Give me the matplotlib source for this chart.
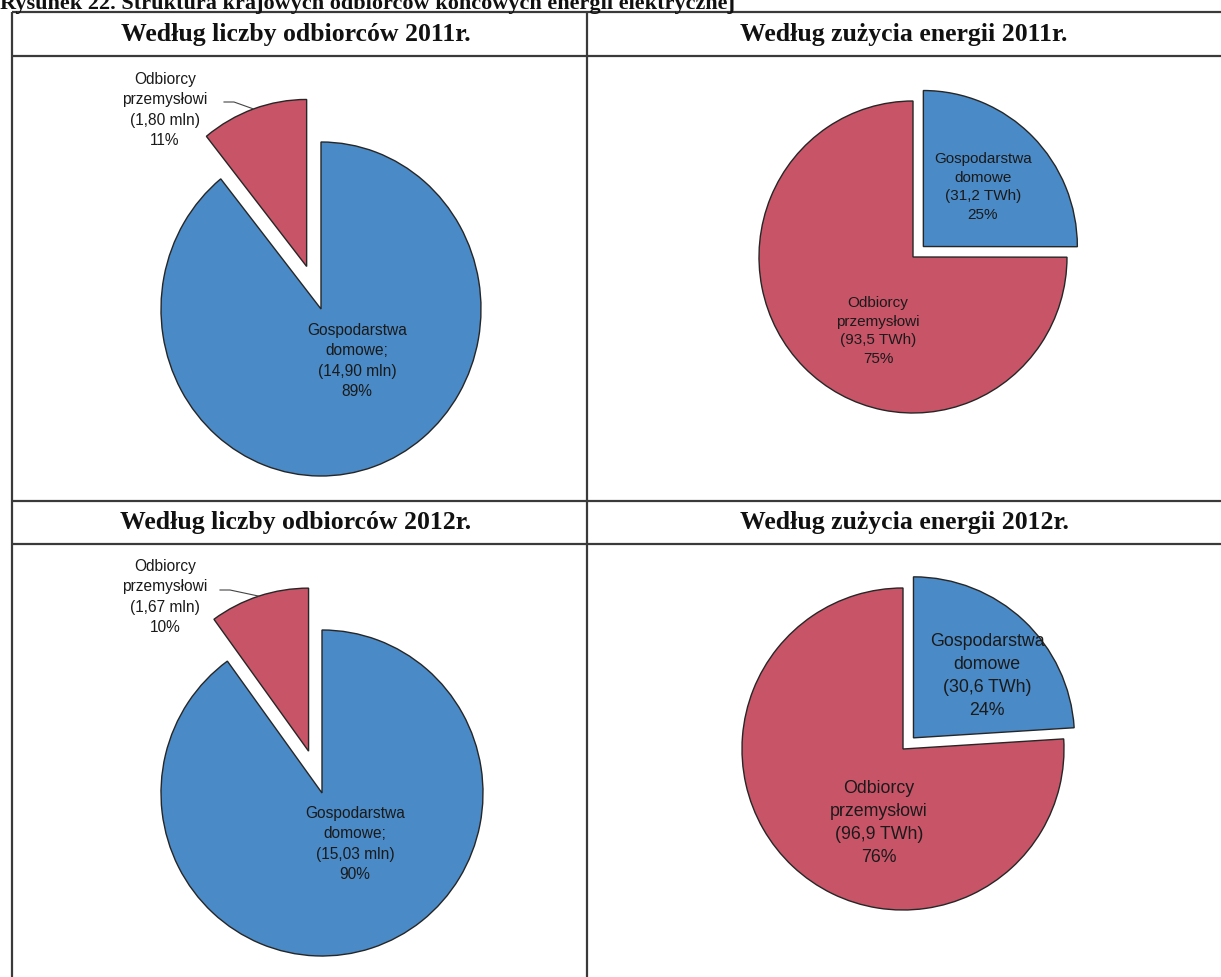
import numpy as np
import matplotlib
matplotlib.use('Agg')
import matplotlib.pyplot as plt

W, H = 1221, 978

# Liczba odbiorców (mln) i zużycie energii (TWh): [przemysłowi, gospodarstwa domowe]
odbiorcy_2011 = [1.80, 14.90]
odbiorcy_2012 = [1.67, 15.03]
zuzycie_2011 = [93.5, 31.2]
zuzycie_2012 = [96.9, 30.6]

tytul = "Rysunek 22. Struktura krajowych odbiorców końcowych energii elektrycznej"
naglowki = ["Według liczby odbiorców 2011r.", "Według zużycia energii 2011r.",
            "Według liczby odbiorców 2012r.", "Według zużycia energii 2012r."]

BLUE = "#4a8ac6"
RED = "#c85468"
EDGE = "#262626"
LINE = "#3a3a3a"


def fmt(v, dec):
    return f"{v:.{dec}f}".replace('.', ',')


def pct(values, i):
    return f"{round(100 * values[i] / sum(values)):.0f}%"


fig = plt.figure(figsize=(W / 100, H / 100), dpi=100)


def pie_axes(cx, cy, rx, ry):
    return fig.add_axes([(cx - 2 * rx) / W, 1 - (cy + 2 * ry) / H, 4 * rx / W, 4 * ry / H])


def draw_pie(cx, cy, rx, ry, values, colors, explode):
    ax = pie_axes(cx, cy, rx, ry)
    wedges, _ = ax.pie(values, colors=colors, explode=explode, startangle=90,
                       counterclock=True, radius=1,
                       wedgeprops=dict(edgecolor=EDGE, linewidth=1.0))
    ax.set_aspect('auto')
    ax.set_xlim(-2, 2)
    ax.set_ylim(-2, 2)
    ax.axis('off')
    return ax, wedges


def to_data(px, py, cx, cy, rx, ry):
    return (px - cx) / rx, -(py - cy) / ry


def leader(ax, wedge, ex, start_px, geom):
    cx, cy, rx, ry = geom
    mid = np.deg2rad((wedge.theta1 + wedge.theta2) / 2)
    tip = ex * np.array([np.cos(mid), np.sin(mid)])
    end = tip + np.array([np.cos(mid), np.sin(mid)])
    x0, y0 = to_data(*start_px, cx, cy, rx, ry)
    x1, _ = to_data(start_px[0] + 10, start_px[1], cx, cy, rx, ry)
    ax.plot([x0, x1, end[0]], [y0, y0, end[1]], color='#444444', lw=0.8)


# pies
g1 = (321, 310, 160, 167)
ax1, w1 = draw_pie(*g1, odbiorcy_2011, [RED, BLUE], [0.27, 0])
leader(ax1, w1[0], 0.27, (224, 103), g1)

g2 = (913, 258, 154, 156)
ax2, w2 = draw_pie(*g2, zuzycie_2011, [RED, BLUE], [0, 0.095])

g3 = (322, 794, 161, 163)
ax3, w3 = draw_pie(*g3, odbiorcy_2012, [RED, BLUE], [0.27, 0])
leader(ax3, w3[0], 0.27, (220, 591), g3)

g4 = (903, 750, 161, 161)
ax4, w4 = draw_pie(*g4, zuzycie_2012, [RED, BLUE], [0, 0.095])

# overlay in pixel coordinates: table grid, titles and labels
frame = fig.add_axes([0, 0, 1, 1])
frame.set_xlim(0, W)
frame.set_ylim(H, 0)
frame.axis('off')
frame.patch.set_alpha(0)

for y in (13, 57, 502, 545):
    frame.plot([12, W], [y, y], color=LINE, lw=1.6, solid_capstyle='butt')
for x in (12, 587):
    frame.plot([x, x], [13, H], color=LINE, lw=1.6, solid_capstyle='butt')

frame.text(0, 9, tytul, family='Liberation Serif', weight='bold',
           fontsize=16, ha='left', va='baseline', color='#111111')
for txt, (x, y) in zip(naglowki, [(296, 34), (904, 34), (296, 523), (904, 523)]):
    frame.text(x, y, txt, family='Liberation Serif', weight='bold',
               fontsize=18.5, ha='center', va='center', color='#111111')

lab = dict(family='Liberation Sans', ha='center', va='center', color='#1a1a1a',
           linespacing=1.45)

frame.text(165, 110, f"Odbiorcy\nprzemysłowi\n({fmt(odbiorcy_2011[0], 2)} mln)\n"
           f"{pct(odbiorcy_2011, 0)}", fontsize=11.2, **lab)
frame.text(357, 361, f"Gospodarstwa\ndomowe;\n({fmt(odbiorcy_2011[1], 2)} mln)\n"
           f"{pct(odbiorcy_2011, 1)}", fontsize=11.2, **lab)

frame.text(983, 187, f"Gospodarstwa\ndomowe\n({fmt(zuzycie_2011[1], 1)} TWh)\n"
           f"{pct(zuzycie_2011, 1)}", fontsize=11, **lab)
frame.text(878, 331, f"Odbiorcy\nprzemysłowi\n({fmt(zuzycie_2011[0], 1)} TWh)\n"
           f"{pct(zuzycie_2011, 0)}", fontsize=11, **lab)

frame.text(165, 597, f"Odbiorcy\nprzemysłowi\n({fmt(odbiorcy_2012[0], 2)} mln)\n"
           f"{pct(odbiorcy_2012, 0)}", fontsize=11.2, **lab)
frame.text(355, 844, f"Gospodarstwa\ndomowe;\n({fmt(odbiorcy_2012[1], 2)} mln)\n"
           f"{pct(odbiorcy_2012, 1)}", fontsize=11.2, **lab)

frame.text(987, 676, f"Gospodarstwa\ndomowe\n({fmt(zuzycie_2012[1], 1)} TWh)\n"
           f"{pct(zuzycie_2012, 1)}", fontsize=12.8, **lab)
frame.text(879, 823, f"Odbiorcy\nprzemysłowi\n({fmt(zuzycie_2012[0], 1)} TWh)\n"
           f"{pct(zuzycie_2012, 0)}", fontsize=12.8, **lab)

fig.savefig('out.png', dpi=100, facecolor='white')
